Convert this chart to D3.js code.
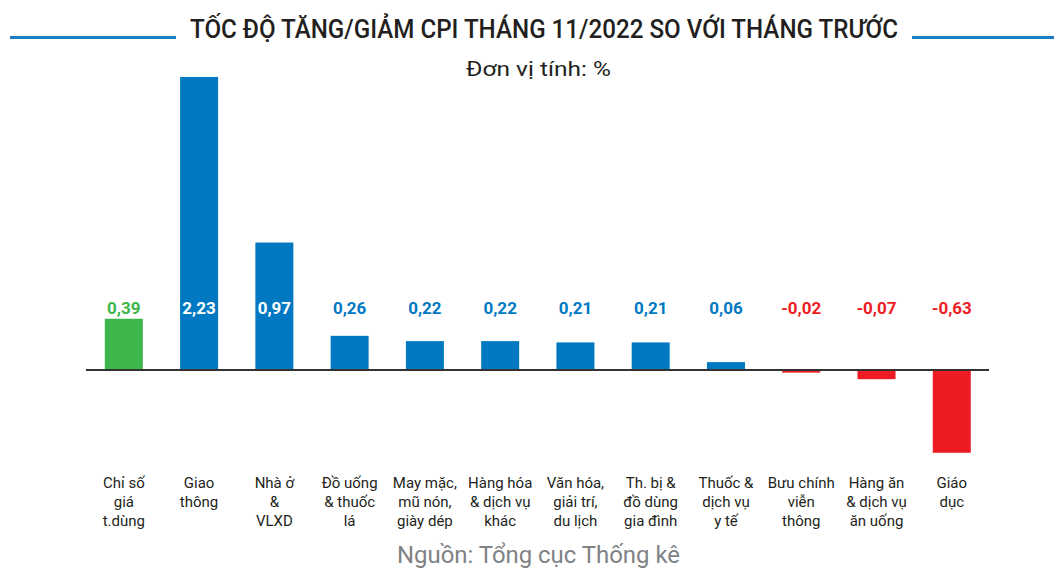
<!DOCTYPE html>
<html>
<head>
<meta charset="utf-8">
<script src="https://cdn.jsdelivr.net/npm/d3@7"></script>
<style>
  body { margin: 0; background: #fff; }
  text { font-family: Roboto, "Noto Sans", sans-serif; }
</style>
</head>
<body>
<div id="chart"></div>
<script>
var width = 1054;
var height = 569;

// data
var categories = [
  ["Chỉ số", "giá", "t.dùng"],
  ["Giao", "thông"],
  ["Nhà ở", "&", "VLXD"],
  ["Đồ uống", "& thuốc", "lá"],
  ["May mặc,", "mũ nón,", "giày dép"],
  ["Hàng hóa", "& dịch vụ", "khác"],
  ["Văn hóa,", "giải trí,", "du lịch"],
  ["Th. bị &", "đồ dùng", "gia đình"],
  ["Thuốc &", "dịch vụ", "y tế"],
  ["Bưu chính", "viễn", "thông"],
  ["Hàng ăn", "& dịch vụ", "ăn uống"],
  ["Giáo", "dục"]
];
var values = [0.39, 2.23, 0.97, 0.26, 0.22, 0.22, 0.21, 0.21, 0.06, -0.02, -0.07, -0.63];
var valueLabels = ["0,39", "2,23", "0,97", "0,26", "0,22", "0,22", "0,21", "0,21", "0,06", "-0,02", "-0,07", "-0,63"];

var green = "#3db64b", blue = "#0079c2", red = "#ed1c24";

function barColor(d, i) {
  if (i === 0) return green;
  return d < 0 ? red : blue;
}

var svg = d3.select('#chart')
  .append('svg')
  .attr('width', width)
  .attr('height', height);

var x = d3.scaleBand()
  .domain(d3.range(values.length))
  .range([86, 989.6])
  .paddingInner(0.495)
  .paddingOuter(0.25);

var y = d3.scaleLinear()
  .domain([-1, 2.5])
  .range([370 + 131.4, 370 - 131.4 * 2.5]);

// title
svg.append("line")
  .attr("x1", 10).attr("x2", 176).attr("y1", 37.5).attr("y2", 37.5)
  .attr("stroke", "#1a7fc4").attr("stroke-width", 3);
svg.append("line")
  .attr("x1", 912).attr("x2", 1054).attr("y1", 37.5).attr("y2", 37.5)
  .attr("stroke", "#1a7fc4").attr("stroke-width", 3);

svg.append("text")
  .attr("x", 190).attr("y", 38)
  .attr("textLength", 708)
  .attr("lengthAdjust", "spacingAndGlyphs")
  .attr("font-size", 25)
  .attr("font-weight", 500)
  .attr("fill", "#231f20")
  .text("TỐC ĐỘ TĂNG/GIẢM CPI THÁNG 11/2022 SO VỚI THÁNG TRƯỚC");

svg.append("text")
  .attr("x", 466).attr("y", 76)
  .attr("textLength", 145)
  .attr("lengthAdjust", "spacingAndGlyphs")
  .attr("font-size", 21)
  .attr("fill", "#231f20")
  .text("Đơn vị tính: %");

// bars
svg.selectAll(".bar")
  .data(values)
  .enter()
  .append("rect")
  .attr("class", "bar")
  .attr("x", (d, i) => x(i))
  .attr("width", x.bandwidth())
  .attr("y", d => y(Math.max(0, d)))
  .attr("height", d => Math.abs(y(d) - y(0)))
  .attr("fill", barColor);

// zero line
svg.append("line")
  .attr("x1", 86).attr("x2", 989)
  .attr("y1", y(0)).attr("y2", y(0))
  .attr("stroke", "#333").attr("stroke-width", 2);

// value labels
svg.selectAll(".val")
  .data(values)
  .enter()
  .append("text")
  .attr("class", "val")
  .attr("x", (d, i) => x(i) + x.bandwidth() / 2)
  .attr("y", 314)
  .attr("text-anchor", "middle")
  .attr("font-size", 17)
  .attr("font-weight", "bold")
  .attr("fill", (d, i) => y(d) < 300 ? "#fff" : barColor(d, i))
  .text((d, i) => valueLabels[i]);

// category labels
var cat = svg.selectAll(".cat")
  .data(categories)
  .enter()
  .append("text")
  .attr("class", "cat")
  .attr("text-anchor", "middle")
  .attr("font-size", 15)
  .attr("fill", "#231f20");

cat.selectAll("tspan")
  .data((d, i) => d.map(s => ({ s: s, i: i })))
  .enter()
  .append("tspan")
  .attr("x", d => x(d.i) + x.bandwidth() / 2)
  .attr("y", (d, j) => 488 + j * 19)
  .text(d => d.s);

// source
svg.append("text")
  .attr("x", 397).attr("y", 563)
  .attr("textLength", 283)
  .attr("lengthAdjust", "spacingAndGlyphs")
  .attr("font-size", 24)
  .attr("fill", "#808285")
  .text("Nguồn: Tổng cục Thống kê");
</script>
</body>
</html>
